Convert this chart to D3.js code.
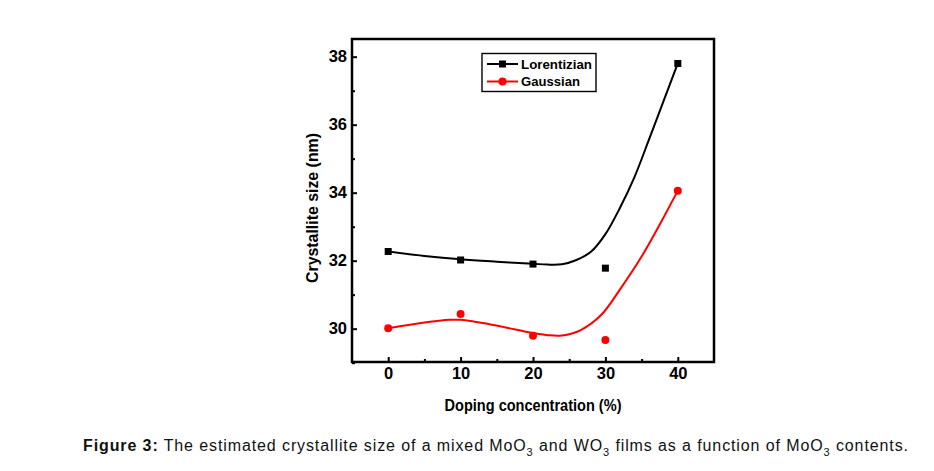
<!DOCTYPE html>
<html>
<head>
<meta charset="utf-8">
<script src="https://cdn.jsdelivr.net/npm/d3@7/dist/d3.min.js"></script>
<style>
  html, body { margin: 0; padding: 0; background: #fff; }
  svg { display: block; }
</style>
</head>
<body>
<svg id="chart" width="934" height="471"></svg>
<script>
// ---------- data ----------
const dopingX = [0, 10, 20, 30, 40];
const lorentzianY = [32.27, 32.02, 31.90, 31.78, 37.80];
const gaussianY = [30.01, 30.43, 29.79, 29.67, 34.06];

// fitted curves
const lorentzianFitX = [0, 5, 10, 15, 20, 22, 24, 26, 28, 30, 32, 34, 36, 38, 40];
const lorentzianFitY = [32.27, 32.14, 32.04, 31.97, 31.91, 31.885, 31.895, 32.02, 32.26, 32.78, 33.55, 34.45, 35.55, 36.68, 37.80];
const gaussianFitX = [0, 5, 8.5, 10, 14.5, 20, 22, 24, 26.6, 29.4, 32, 35, 37.6, 40];
const gaussianFitY = [30.01, 30.18, 30.26, 30.26, 30.11, 29.87, 29.81, 29.80, 29.96, 30.40, 31.15, 32.12, 33.10, 34.06];

const xTicks = [0, 10, 20, 30, 40];
const xMinorTicks = [5, 15, 25, 35];
const yTicks = [30, 32, 34, 36, 38];
const yMinorTicks = [29, 31, 33, 35, 37];

const seriesNames = ["Lorentizian", "Gaussian"];
const seriesColors = ["#000000", "#ff0000"];
const xTitle = "Doping concentration (%)";
const yTitle = "Crystallite size (nm)";

// ---------- layout ----------
const svg = d3.select("#chart");
const L = 352, R = 714, T = 39, B = 362;
const x = d3.scaleLinear().domain([-5, 45]).range([L, R]);
const y = d3.scaleLinear().domain([29.02, 38.52]).range([B, T]);
const font = "'Liberation Sans', Arial, sans-serif";

// axes (ticks inward)
const gx = svg.append("g").attr("transform", `translate(0,${B})`)
  .call(d3.axisBottom(x).tickValues(xTicks).tickSizeInner(-5).tickSizeOuter(0).tickPadding(5).tickFormat(d3.format("d")));
const gxm = svg.append("g").attr("transform", `translate(0,${B})`)
  .call(d3.axisBottom(x).tickValues(xMinorTicks).tickSizeInner(-3).tickSizeOuter(0).tickFormat(""));
const gy = svg.append("g").attr("transform", `translate(${L},0)`)
  .call(d3.axisLeft(y).tickValues(yTicks).tickSizeInner(-5).tickSizeOuter(0).tickPadding(5).tickFormat(d3.format("d")));
const gym = svg.append("g").attr("transform", `translate(${L},0)`)
  .call(d3.axisLeft(y).tickValues(yMinorTicks).tickSizeInner(-3).tickSizeOuter(0).tickFormat(""));

[gx, gxm, gy, gym].forEach(g => {
  g.select(".domain").remove();
  g.selectAll(".tick line").attr("stroke", "#000").attr("stroke-width", 2);
  g.selectAll(".tick text").attr("fill", "#000")
    .style("font-family", font).style("font-size", "16.5px").style("font-weight", "bold");
});

// frame
svg.append("rect").attr("x", L).attr("y", T).attr("width", R - L).attr("height", B - T)
  .attr("fill", "none").attr("stroke", "#000").attr("stroke-width", 2.5);

// fitted curves
const line = d3.line().x(d => x(d[0])).y(d => y(d[1])).curve(d3.curveCatmullRom.alpha(0.5));
const lFit = lorentzianFitX.map((v, i) => [v, lorentzianFitY[i]]);
const gFit = gaussianFitX.map((v, i) => [v, gaussianFitY[i]]);
svg.append("path").datum(lFit).attr("d", line).attr("fill", "none")
  .attr("stroke", seriesColors[0]).attr("stroke-width", 2);
svg.append("path").datum(gFit).attr("d", line).attr("fill", "none")
  .attr("stroke", seriesColors[1]).attr("stroke-width", 2);

// markers
const sq = 7;
svg.append("g").selectAll("rect").data(dopingX.map((v, i) => [v, lorentzianY[i]])).join("rect")
  .attr("x", d => x(d[0]) - sq / 2).attr("y", d => y(d[1]) - sq / 2)
  .attr("width", sq).attr("height", sq).attr("fill", seriesColors[0]);
svg.append("g").selectAll("circle").data(dopingX.map((v, i) => [v, gaussianY[i]])).join("circle")
  .attr("cx", d => x(d[0])).attr("cy", d => y(d[1])).attr("r", 4).attr("fill", seriesColors[1]);

// axis titles
svg.append("text").attr("x", 533).attr("y", 411).attr("text-anchor", "middle")
  .attr("textLength", 177).attr("lengthAdjust", "spacingAndGlyphs")
  .style("font-family", font).style("font-size", "17px").style("font-weight", "bold")
  .text(xTitle);
svg.append("text").attr("transform", "translate(318,208) rotate(-90)").attr("text-anchor", "middle")
  .attr("textLength", 150).attr("lengthAdjust", "spacingAndGlyphs")
  .style("font-family", font).style("font-size", "17px").style("font-weight", "bold")
  .text(yTitle);

// legend
const lg = svg.append("g");
lg.append("rect").attr("x", 482).attr("y", 53.5).attr("width", 114).attr("height", 38)
  .attr("fill", "#fff").attr("stroke", "#000").attr("stroke-width", 1.4);
const rowsY = [64, 81.5];
const textLens = [71, 59];
seriesNames.forEach((name, i) => {
  const ry = rowsY[i];
  lg.append("line").attr("x1", 487).attr("x2", 518).attr("y1", ry).attr("y2", ry)
    .attr("stroke", seriesColors[i]).attr("stroke-width", 2);
  if (i === 0) {
    lg.append("rect").attr("x", 502.5 - 3.5).attr("y", ry - 3.5).attr("width", 7).attr("height", 7).attr("fill", seriesColors[i]);
  } else {
    lg.append("circle").attr("cx", 502.5).attr("cy", ry).attr("r", 4).attr("fill", seriesColors[i]);
  }
  lg.append("text").attr("x", 521).attr("y", ry + 4.7)
    .attr("textLength", textLens[i]).attr("lengthAdjust", "spacingAndGlyphs")
    .style("font-family", font).style("font-size", "13px").style("font-weight", "bold")
    .text(name);
});

// caption
const cap = svg.append("text").attr("x", 83).attr("y", 450.5)
  .attr("textLength", 825).attr("lengthAdjust", "spacing")
  .style("font-family", font).style("font-size", "16px").attr("fill", "#111");
cap.append("tspan").style("font-weight", "bold").text("Figure 3:");
cap.append("tspan").text(" The estimated crystallite size of a mixed MoO");
cap.append("tspan").attr("dy", 5).style("font-size", "11px").text("3");
cap.append("tspan").attr("dy", -5).text(" and WO");
cap.append("tspan").attr("dy", 5).style("font-size", "11px").text("3");
cap.append("tspan").attr("dy", -5).text(" films as a function of MoO");
cap.append("tspan").attr("dy", 5).style("font-size", "11px").text("3");
cap.append("tspan").attr("dy", -5).text(" contents.");
</script>
</body>
</html>
